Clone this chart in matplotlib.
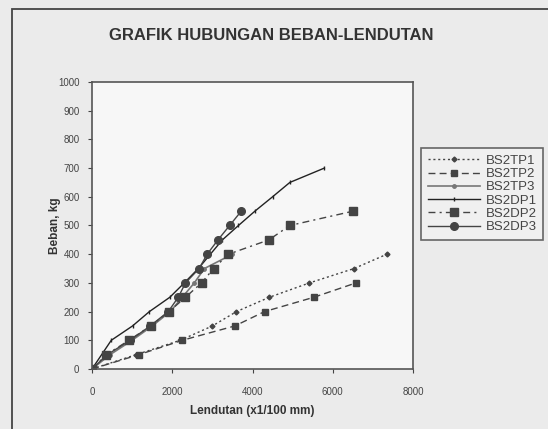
import matplotlib.pyplot as plt
from matplotlib.patches import Rectangle

plt.rcParams['font.family'] = ['Liberation Sans', 'DejaVu Sans']

# load (kg) and deflection (x1/100 mm)
beban_tp1 = [0, 50, 100, 150, 200, 250, 300, 350, 400]
lendutan_tp1 = [0, 1100, 2200, 3000, 3600, 4420, 5420, 6530, 7350]

beban_tp2 = [0, 50, 100, 150, 200, 250, 300]
lendutan_tp2 = [0, 1170, 2250, 3560, 4300, 5530, 6580]

beban_tp3 = [0, 50, 100, 150, 200, 250, 300, 350, 400]
lendutan_tp3 = [0, 450, 1000, 1500, 1950, 2250, 2550, 2800, 3500]

beban_dp1 = [0, 100, 150, 200, 250, 300, 350, 400, 450, 500, 550, 600, 650, 700]
lendutan_dp1 = [0, 480, 1010, 1430, 1940, 2300, 2650, 2950, 3250, 3650, 4060, 4500, 4930, 5790]

beban_dp2 = [0, 50, 100, 150, 200, 250, 300, 350, 400, 450, 500, 550]
lendutan_dp2 = [0, 360, 920, 1460, 1920, 2330, 2730, 3030, 3400, 4410, 4930, 6510]

beban_dp3 = [0, 50, 100, 150, 200, 250, 300, 350, 400, 450, 500, 550]
lendutan_dp3 = [0, 380, 950, 1450, 1900, 2150, 2330, 2670, 2870, 3140, 3430, 3720]

W, H = 548, 429
fig = plt.figure(figsize=(W / 100, H / 100), dpi=100)
fig.patch.set_facecolor('#ebebeb')

# outer chart frame (runs off the right and bottom of the scan)
fig.patches.append(Rectangle((12 / W, -0.05), 1.1, 1 - 9 / H + 0.05,
                             transform=fig.transFigure, fill=False,
                             edgecolor='#444444', linewidth=1.3))

ax = fig.add_axes([92 / W, 1 - 369 / H, (413 - 92) / W, (369 - 82) / H])
ax.set_facecolor('#f7f7f7')

ax.plot(lendutan_tp1, beban_tp1, linestyle=(0, (1.5, 2)), color='#444444', lw=1,
        marker='D', markersize=2.5, label='BS2TP1')
ax.plot(lendutan_tp2, beban_tp2, linestyle=(0, (5, 3)), color='#444444', lw=1,
        marker='s', markersize=4, label='BS2TP2')
ax.plot(lendutan_tp3, beban_tp3, linestyle='-', color='#777777', lw=1.2,
        marker='o', markersize=2.5, label='BS2TP3')
ax.plot(lendutan_dp1, beban_dp1, linestyle='-', color='#222222', lw=1,
        marker='|', markersize=3, label='BS2DP1')
ax.plot(lendutan_dp2, beban_dp2, linestyle=(0, (5, 3, 1.5, 3)), color='#444444', lw=1,
        marker='s', markersize=5.5, label='BS2DP2')
ax.plot(lendutan_dp3, beban_dp3, linestyle='-', color='#444444', lw=1,
        marker='o', markersize=5.5, label='BS2DP3')

ax.set_xlim(0, 8000)
ax.set_ylim(0, 1000)
ax.set_xticks(range(0, 8001, 2000))
ax.set_yticks(range(0, 1001, 100))
ax.tick_params(direction='out', length=3, width=0.8, labelsize=7,
               colors='#444444')
ax.tick_params(axis='x', pad=10)
ax.tick_params(axis='y', pad=6)
for s in ax.spines.values():
    s.set_color('#555555')
    s.set_linewidth(1.2)

ax.set_xlabel('Lendutan (x1/100 mm)', fontsize=8.5, fontweight='bold',
              color='#333333', labelpad=6)
ax.set_ylabel('Beban, kg', fontsize=8.5, fontweight='bold', color='#333333',
              labelpad=-2)

fig.text(271 / W, 1 - 36 / H, 'GRAFIK HUBUNGAN BEBAN-LENDUTAN', fontsize=12,
         fontweight='bold', color='#333333', ha='center', va='center')

leg = fig.legend(loc='upper left', bbox_to_anchor=(421 / W, 1 - 148 / H),
                 fontsize=9.5, frameon=True, fancybox=False, handlelength=4.0,
                 labelspacing=0.08, borderpad=0.5, handletextpad=0.4,
                 borderaxespad=0)
leg.get_frame().set_edgecolor('#444444')
leg.get_frame().set_facecolor('#f2f2f2')
leg.get_frame().set_linewidth(1.2)
for t in leg.get_texts():
    t.set_color('#444444')

plt.savefig('out.png', dpi=100, facecolor=fig.get_facecolor())
